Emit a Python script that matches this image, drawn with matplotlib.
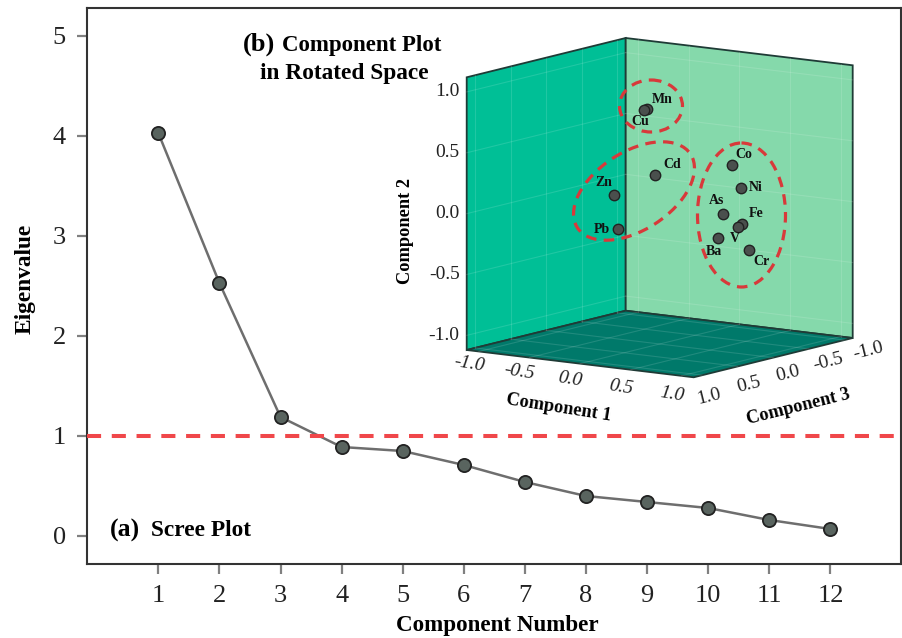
import matplotlib
matplotlib.use("Agg")
import matplotlib.pyplot as plt
from matplotlib.patches import Polygon, Ellipse

plt.rcParams['font.family'] = ['Liberation Serif', 'DejaVu Serif']

# scree plot
components = [1, 2, 3, 4, 5, 6, 7, 8, 9, 10, 11, 12]
eigenvalues = [4.03, 2.53, 1.19, 0.89, 0.85, 0.71, 0.54, 0.40, 0.34, 0.28, 0.16, 0.07]
eigen_ticks = [0, 1, 2, 3, 4, 5]

# loadings in rotated space
elements = ['Mn', 'Cu', 'Cd', 'Zn', 'Pb', 'Co', 'Ni', 'As', 'Fe', 'V', 'Ba', 'Cr']
comp1 = [-0.13, -0.15, -0.05, -0.24, -0.20, 0.71, 0.80, 0.62, 0.81, 0.77, 0.58, 0.88]
comp2 = [0.80, 0.79, 0.26, 0.12, -0.15, 0.42, 0.24, 0.01, -0.05, -0.08, -0.19, -0.26]
comp3 = [0.0, 0.0, 0.0, 0.3, 0.3, 0.0, 0.0, 0.0, 0.0, 0.0, 0.0, 0.0]
comp_ticks = [-1.0, -0.5, 0.0, 0.5, 1.0]

# label offset from its point, in pixels
label_dx = [16, -4, 18, -10, -16, 12, 15, -6, 14, -3, -5, 13]
label_dy = [-9, 12, -11, -13, 1, -11, -1, -13, -10, 12, 14, 11]

LIM = 1.12
RED = '#f0474a'
DARK = '#4a4f4d'


def project(c1, c2, c3):
    # box drawn as a parallel projection, result is in figure pixels
    a = (c1 + LIM) / (2 * LIM)
    b = (c3 + LIM) / (2 * LIM)
    h = (c2 + LIM) / (2 * LIM)
    return 625.7 + 227 * a - 159 * b, 310.7 + 27.3 * a + 39.3 * b - 272.7 * h


def face(ax, corners, color):
    pts = [project(*c) for c in corners]
    ax.add_patch(Polygon(pts, closed=True, fc=color, ec='#1f3b36', lw=1.3, zorder=1))


fig = plt.figure(figsize=(9.02, 6.38), dpi=100)
ax = fig.add_axes([87 / 902, 1 - 564 / 638, (901 - 87) / 902, (564 - 8) / 638])
ax.plot(components, eigenvalues, color='#6e6e6e', lw=1.8, marker='o', ms=9.5,
        mfc='#59645f', mec='#222222', mew=1.3, zorder=3)
ax.axhline(1, color=RED, lw=2.9, dashes=(3.5, 2.65), zorder=4)
ax.set_xlim(-0.167, 13.155)
ax.set_ylim(-0.28, 5.28)
ax.set_xticks(components)
ax.set_yticks(eigen_ticks)
ax.tick_params(axis='both', labelsize=19, length=7.2, width=1.6, color='#808080',
               labelcolor='#222222', pad=8)
for s in ax.spines.values():
    s.set_linewidth(1.5)
    s.set_color('#333333')

# overlay in pixel space for the 3D panel and the panel letters
ov = fig.add_axes([0, 0, 1, 1], facecolor='none')
ov.set_xlim(0, 902)
ov.set_ylim(638, 0)
ov.axis('off')

ov.text(497, 626, 'Component Number', fontsize=16.6, fontweight='bold', ha='center', va='center')
ov.text(25, 279, 'Eigenvalue', fontsize=16.8, fontweight='bold', rotation=90, ha='center', va='center')

face(ov, [(-LIM, -LIM, LIM), (-LIM, -LIM, -LIM), (-LIM, LIM, -LIM), (-LIM, LIM, LIM)], '#00bf96')
face(ov, [(-LIM, -LIM, -LIM), (LIM, -LIM, -LIM), (LIM, LIM, -LIM), (-LIM, LIM, -LIM)], '#85d9ab')
face(ov, [(-LIM, -LIM, -LIM), (LIM, -LIM, -LIM), (LIM, -LIM, LIM), (-LIM, -LIM, LIM)], '#00796a')

# faint grid on the walls and floor
for t in comp_ticks:
    for p, q in [((-LIM, t, LIM), (-LIM, t, -LIM)), ((-LIM, t, -LIM), (LIM, t, -LIM)),
                 ((t, -LIM, -LIM), (t, LIM, -LIM)), ((-LIM, -LIM, t), (-LIM, LIM, t)),
                 ((t, -LIM, -LIM), (t, -LIM, LIM)), ((-LIM, -LIM, t), (LIM, -LIM, t))]:
        x0, y0 = project(*p)
        x1, y1 = project(*q)
        ov.plot([x0, x1], [y0, y1], color='white', lw=0.8, alpha=0.13, zorder=2)

for e, c1, c2, c3, dx, dy in zip(elements, comp1, comp2, comp3, label_dx, label_dy):
    x, y = project(c1, c2, c3)
    ov.plot(x, y, 'o', ms=7.5, mfc=DARK, mec='#222222', mew=1, zorder=5)
    ov.text(x + dx, y + dy, e, fontsize=10, fontweight='bold', ha='center', va='center',
            color='#111111', zorder=6)

# circled groups
for cx, cy, w, h, ang in [(651, 106, 63, 52, 0), (634, 191, 135, 78, -33), (741.5, 215, 88, 144, 0)]:
    ov.add_patch(Ellipse((cx, cy), w, h, angle=ang, fc='none', ec='#d8393a', lw=2.3,
                         ls=(0, (3.3, 2.3)), zorder=7))

# axis tick labels of the 3D panel
for t in comp_ticks:
    x, y = project(-LIM, t, LIM)
    ov.text(x - 7, y, f'{t:.1f}', fontsize=14, ha='right', va='center', color='#222222')
    x, y = project(t, -LIM, LIM)
    ov.text(x - 10, y + 16 + 3 * t, f'{t:.1f}', fontsize=14, style='italic', rotation=-9,
            rotation_mode='anchor', ha='center', va='center', color='#222222')
    x, y = project(LIM, -LIM, t * 1.1)
    ov.text(x + 15 - 1.5 * t, y + 16 + 3.5 * t, f'{t:.1f}', fontsize=14, rotation=14,
            rotation_mode='anchor', ha='center', va='center', color='#222222')

ov.text(406, 231, 'Component 2', fontsize=13.2, fontweight='bold', rotation=90, ha='center', va='center')
ov.text(559, 408, 'Component 1', fontsize=13.2, fontweight='bold', rotation=-9, ha='center', va='center',
        rotation_mode='anchor')
ov.text(798, 407, 'Component 3', fontsize=13.2, fontweight='bold', rotation=14, ha='center', va='center',
        rotation_mode='anchor')

# panel captions
ov.text(243, 44, '(b)', fontsize=19, fontweight='bold', ha='left', va='center')
ov.text(282, 45, 'Component Plot', fontsize=16.5, fontweight='bold', ha='left', va='center')
ov.text(260, 73, 'in Rotated Space', fontsize=16.8, fontweight='bold', ha='left', va='center')
ov.text(110, 530, '(a)', fontsize=18.5, fontweight='bold', ha='left', va='center')
ov.text(151, 530, 'Scree Plot', fontsize=16.8, fontweight='bold', ha='left', va='center')

fig.savefig('out.png', dpi=100)
